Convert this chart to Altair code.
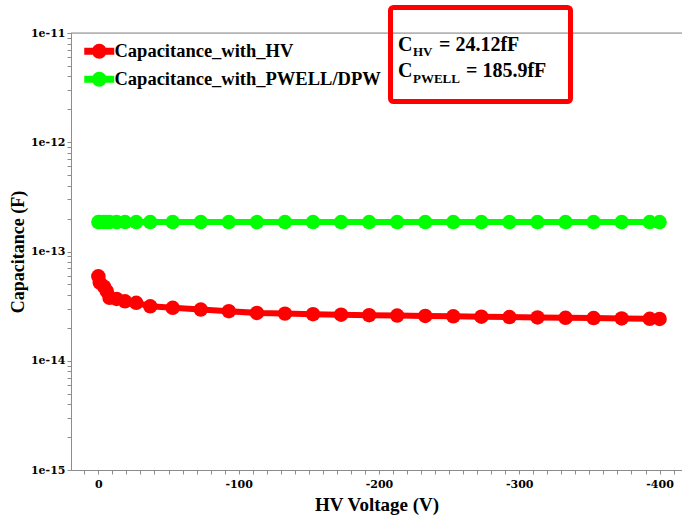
import altair as alt
import pandas as pd

# ---- data ----
voltage = [0, -1, -4, -6, -8, -13, -19, -27, -37, -53, -73, -93, -113, -133, -153,
           -173, -193, -213, -233, -253, -273, -293, -313, -333, -353, -373, -393, -400]
cap_hv = [5.93e-14, 5.19e-14, 4.77e-14, 4.33e-14, 3.77e-14, 3.68e-14, 3.50e-14, 3.39e-14,
          3.15e-14, 3.05e-14, 2.94e-14, 2.84e-14, 2.74e-14, 2.70e-14, 2.67e-14, 2.64e-14,
          2.61e-14, 2.59e-14, 2.57e-14, 2.55e-14, 2.53e-14, 2.51e-14, 2.49e-14, 2.47e-14,
          2.46e-14, 2.44e-14, 2.42e-14, 2.412e-14]
cap_pwell = [1.859e-13, 1.859e-13, 1.859e-13, 1.859e-13, 1.859e-13, 1.859e-13, 1.859e-13,
             1.859e-13, 1.859e-13, 1.859e-13, 1.859e-13, 1.859e-13, 1.859e-13, 1.859e-13,
             1.859e-13, 1.859e-13, 1.859e-13, 1.859e-13, 1.859e-13, 1.859e-13, 1.859e-13,
             1.859e-13, 1.859e-13, 1.859e-13, 1.859e-13, 1.859e-13, 1.859e-13, 1.859e-13]
series_names = ["Capacitance_with_HV", "Capacitance_with_PWELL/DPW"]
series_colors = ["#ff0000", "#00ff00"]
annotation_lines = [("C", "HV", "= 24.12fF"), ("C", "PWELL", "= 185.9fF")]

x_ticks = list(range(10, -420, -10))
y_decades = [-15, -14, -13, -12, -11]
y_ticks = [m * 10.0 ** d for d in y_decades[:-1] for m in range(1, 10)] + [1e-11]

rows = []
for v, c in zip(voltage, cap_hv):
    rows.append({"V": v, "C": c, "series": series_names[0]})
for v, c in zip(voltage, cap_pwell):
    rows.append({"V": v, "C": c, "series": series_names[1]})
df = pd.DataFrame(rows)
one = pd.DataFrame({"k": [0]})

W, H = 611, 437
LEFT, TOP = 71, 33
GRAY = "#8c8c8c"

x_enc = alt.X("V:Q",
              scale=alt.Scale(domain=[-416, 19.5], reverse=True, nice=False, zero=False),
              axis=alt.Axis(values=x_ticks, grid=False, tickSize=4, tickColor=GRAY,
                            domainColor=GRAY, labelFont="DejaVu Serif", labelFontWeight="bold",
                            labelFontSize=11, labelColor="black", labelPadding=4,
                            labelExpr="datum.value % 100 == 0 ? toString(datum.value) : ''",
                            title="HV Voltage (V)", titleFont="Liberation Serif",
                            titleFontWeight="bold", titleFontSize=19, titlePadding=6,
                            titleColor="black"))
y_enc = alt.Y("C:Q",
              scale=alt.Scale(type="log", domain=[1e-15, 1e-11], nice=False),
              axis=alt.Axis(values=y_ticks, grid=False, tickSize=4, tickColor=GRAY,
                            domainColor=GRAY, labelFont="DejaVu Serif", labelFontWeight="bold",
                            labelFontSize=11, labelColor="black", labelPadding=2,
                            labelExpr="abs(log(datum.value)/LN10 - round(log(datum.value)/LN10)) < 0.001 ? '1e' + toString(round(log(datum.value)/LN10)) : ''",
                            title="Capacitance (F)", titleFont="Liberation Serif",
                            titleFontWeight="bold", titleFontSize=18, titlePadding=3,
                            titleColor="black"))
legend = alt.Legend(title=None, orient="none", legendX=19, legendY=9,
                    symbolType="M-3,0H3M-0.8,0A0.8,0.8,0,1,1,0.8,0A0.8,0.8,0,1,1,-0.8,0",
                    symbolSize=100, symbolStrokeWidth=7,
                    labelFont="Liberation Serif", labelFontWeight="bold",
                    labelFontSize=18.5, labelColor="black", labelOffset=6,
                    labelLimit=0, rowPadding=-24, padding=0)
color_enc = alt.Color("series:N",
                      scale=alt.Scale(domain=series_names, range=series_colors),
                      legend=legend)

base = alt.Chart(df)
lines = base.mark_line(strokeWidth=6).encode(x=x_enc, y=y_enc, color=color_enc, detail="series:N")
points = base.mark_circle(size=210, opacity=1).encode(x=x_enc, y=y_enc, color=color_enc)

top_line = alt.Chart(one).mark_rule(color=GRAY, strokeWidth=1).encode(
    x=alt.value(0), x2=alt.value(W), y=alt.value(0))

box = alt.Chart(one).mark_rect(fill=None, fillOpacity=0, stroke="#ff0000", strokeWidth=5,
                               cornerRadius=3).encode(
    x=alt.value(390.5 - LEFT), x2=alt.value(570.5 - LEFT),
    y=alt.value(7.5 - TOP), y2=alt.value(101.5 - TOP))

def txt(s, x, y, size):
    return alt.Chart(one).mark_text(text=s, align="left", baseline="alphabetic",
                                    font="Liberation Serif", fontWeight="bold",
                                    fontSize=size, color="black").encode(
        x=alt.value(x - LEFT), y=alt.value(y - TOP))

l1, l2 = annotation_lines
annot = (txt(l1[0], 398, 51, 20) + txt(l1[1], 413, 56, 13) + txt(l1[2], 439, 51, 20)
         + txt(l2[0], 398, 77, 20) + txt(l2[1], 413, 83, 13) + txt(l2[2], 466, 77, 20))

chart = alt.layer(top_line, lines, points, box, annot).properties(
    width=W, height=H,
    autosize=alt.AutoSizeParams(type="none"),
    padding={"left": LEFT, "top": TOP, "right": 0, "bottom": 516 - TOP - H},
).configure_view(stroke=None).configure(background="white")

chart.save("out.html", embed_options={"renderer": "svg", "actions": False})
